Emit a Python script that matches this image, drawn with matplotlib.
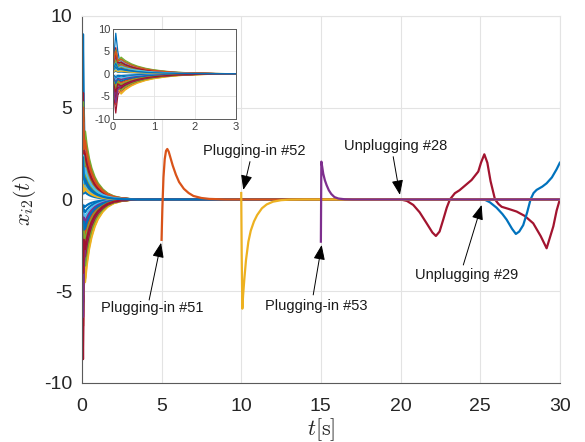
import matplotlib
matplotlib.use("Agg")
import matplotlib.pyplot as plt

plt.rcParams['font.family'] = ['Liberation Sans', 'DejaVu Sans']
plt.rcParams['mathtext.fontset'] = 'cm'
plt.rcParams['axes.unicode_minus'] = False

# MATLAB default colour order
colors = ['#0072BD', '#D95319', '#EDB120', '#7E2F8E', '#77AC30', '#4DBEEE', '#A2142F']

# ---- initial 50 agents: start value, transient peak, slow-mode amplitude, shared decay shape
agent_start = [1.0, -0.5, -1.2, 1.0, 2.0, -0.8, 2.5, 0.6, -2.5, 0.4,
               -1.0, -1.5, 1.4, -3.0, -0.3, 1.2, -2.0, 0.6, 2.2, -1.2,
               -0.9, 0.2, -1.4, 1.0, -1.7, -2.3, 1.6, 1.1, -0.2, 0.9,
               -1.0, 1.3, 0.7, -0.5, -2.1, 0.5, -0.9, -1.3, -0.6, 1.2,
               0.4, 1.8, -0.8, 1.9, 0.3, -2.4, -1.1, 0.8, -1.5, 0.9]
agent_peak = [9.0, -1.5, -4.5, 2.5, 4.8, -2.0, 5.8, 2.2, -6.9, 1.2,
              -3.0, -4.2, 3.3, -8.7, -1.0, 3.8, -5.2, 1.8, 5.3, -3.5,
              -2.4, 0.6, -3.8, 2.9, -4.8, -6.0, 4.2, 3.0, -0.6, 2.6,
              -2.8, 3.6, 2.0, -1.4, -5.6, 1.5, -2.6, -3.4, -1.8, 3.1,
              1.0, 4.5, -2.2, 5.0, 0.8, -6.4, -3.2, 2.4, -4.0, 2.3]
agent_slow = [1.2, -1.1, -4.3, 1.6, 3.7, -1.4, 2.6, 1.4, -3.9, 0.9,
              -2.2, -3.4, 2.4, -3.2, -0.7, 2.8, -4.5, 1.3, 3.4, -2.6,
              -1.8, 0.4, -3.0, 2.1, -2.9, -3.6, 3.0, 2.2, -0.4, 1.9,
              -2.1, 2.6, 1.5, -1.0, -3.1, 1.1, -2.0, -2.5, -1.3, 2.3,
              0.7, 2.5, -1.6, 3.2, 0.6, -2.8, -2.4, 1.7, -2.7, 1.0]
fast_t = [0.07, 0.12]
fast_shape = [1.0, 0.55]
decay_t = [0.2, 0.3, 0.45, 0.6, 0.8, 1.0, 1.3, 1.6, 2.0, 2.5, 3.0, 3.5]
decay_shape = [1.0, 0.8, 0.6, 0.46, 0.33, 0.24, 0.15, 0.09, 0.045, 0.018, 0.006, 0.0]

# ---- plugging-in agents
plug51_t = [5.0, 5.05, 5.12, 5.2, 5.28, 5.36, 5.45, 5.55, 5.7, 5.9, 6.1, 6.4, 6.7, 7.0, 7.5, 8.0, 9.0, 30.0]
plug51_y = [-2.2, -0.5, 1.2, 2.2, 2.65, 2.75, 2.6, 2.3, 1.85, 1.35, 0.95, 0.58, 0.35, 0.19, 0.08, 0.03, 0.0, 0.0]
plug52_t = [10.0, 10.03, 10.07, 10.12, 10.2, 10.3, 10.45, 10.6, 10.8, 11.0, 11.3, 11.6, 12.0, 12.5, 13.0, 14.0, 30.0]
plug52_y = [0.35, -3.0, -5.95, -5.2, -4.3, -3.3, -2.3, -1.7, -1.2, -0.85, -0.48, -0.27, -0.12, -0.04, -0.01, 0.0, 0.0]
plug53_t = [15.0, 15.03, 15.08, 15.15, 15.25, 15.36, 15.5, 15.65, 15.85, 16.1, 16.5, 17.0, 30.0]
plug53_y = [-2.3, 2.06, 1.8, 1.4, 1.05, 0.78, 0.5, 0.3, 0.13, 0.05, 0.01, 0.0, 0.0]

# ---- unplugging events (agents 28 and 29)
unplug28_t = [20.0, 20.4, 20.8, 21.2, 21.64, 22.0, 22.22, 22.45, 22.68, 22.9, 23.1, 23.41, 23.7,
              24.0, 24.46, 24.88, 25.05, 25.26, 25.45, 25.65, 25.93, 26.15, 26.35, 26.8, 27.29,
              27.8, 28.33, 28.8, 29.17, 29.59, 29.8, 30.0]
unplug28_y = [0.0, -0.08, -0.3, -0.7, -1.3, -1.8, -1.99, -1.75, -1.1, -0.45, 0.0, 0.34, 0.5,
              0.72, 1.06, 1.52, 2.0, 2.46, 2.0, 1.0, 0.0, -0.25, -0.4, -0.52, -0.66,
              -0.9, -1.3, -2.0, -2.66, -1.47, -0.6, 0.0]
unplug29_t = [25.0, 25.3, 25.6, 26.03, 26.4, 26.66, 27.0, 27.24, 27.45, 27.7, 27.95, 28.16,
              28.35, 28.54, 28.9, 29.17, 29.5, 29.8, 30.0]
unplug29_y = [0.0, -0.02, -0.15, -0.45, -0.8, -1.1, -1.6, -1.88, -1.75, -1.4, -0.7, 0.0,
              0.35, 0.52, 0.7, 0.88, 1.2, 1.65, 2.0]

annotations = [
    ("Plugging-in #51", (4.97, -2.36), (4.22, -5.48), (4.39, -5.91)),
    ("Plugging-in #52", (10.13, 0.52), (10.55, 2.06), (10.8, 2.62)),
    ("Plugging-in #53", (15.05, -2.48), (14.52, -5.2), (14.69, -5.78)),
    ("Unplugging #28", (19.96, 0.25), (19.54, 2.33), (19.7, 2.92)),
    ("Unplugging #29", (25.09, -0.3), (23.94, -3.57), (24.15, -4.11)),
]

fig = plt.figure(figsize=(5.85, 4.42), dpi=100)
ax = fig.add_axes([0.140, 0.1335, 0.817, 0.8305])
axi = fig.add_axes([0.193, 0.731, 0.210, 0.204])


def agent_series(i):
    t = [0.0] + fast_t + decay_t
    y = ([agent_start[i]] + [agent_peak[i] * s for s in fast_shape]
         + [agent_slow[i] * s for s in decay_shape])
    if i == 27:
        t = t + unplug28_t
        y = y + unplug28_y
    elif i == 28:
        t = t + unplug29_t
        y = y + unplug29_y
    else:
        t = t + [30.0]
        y = y + [0.0]
    return t, y


for i in range(len(agent_peak)):
    t, y = agent_series(i)
    c = colors[i % 7]
    ax.plot(t, y, color=c, lw=1.6, solid_joinstyle='round')
    axi.plot(t, y, color=c, lw=0.9)

ax.plot(plug51_t, plug51_y, color=colors[50 % 7], lw=1.6)
ax.plot(plug52_t, plug52_y, color=colors[51 % 7], lw=1.6)
ax.plot(plug53_t, plug53_y, color=colors[52 % 7], lw=1.6)

for label, head, tail, txt in annotations:
    ax.annotate('', xy=head, xytext=tail,
                arrowprops=dict(arrowstyle='-|>,head_length=0.9,head_width=0.35',
                                color='black', lw=0.7, shrinkA=0, shrinkB=0))
    ax.text(txt[0], txt[1], label, fontsize=10.5, ha='center', va='center', color='#1a1a1a')

# main axes styling
ax.set_xlim(0, 30)
ax.set_ylim(-10, 10)
ax.set_xticks([0, 5, 10, 15, 20, 25, 30])
ax.set_yticks([-10, -5, 0, 5, 10])
ax.grid(True, color='#e3e3e3', lw=0.8)
ax.set_axisbelow(True)
ax.tick_params(labelsize=14, colors='#262626', direction='in', length=0)
ax.tick_params(axis='x', pad=11)
ax.tick_params(axis='y', pad=7)
for s in ['left', 'bottom']:
    ax.spines[s].set_color('#5a5a5a')
    ax.spines[s].set_linewidth(0.8)
for s in ['top', 'right']:
    ax.spines[s].set_color('#e3e3e3')
    ax.spines[s].set_linewidth(0.8)
ax.set_xlabel(r'$t[\mathrm{s}]$', fontsize=16, labelpad=1, color='#262626')
ax.set_ylabel(r'$x_{i2}(t)$', fontsize=16, labelpad=4, color='#262626')

# inset styling
axi.set_xlim(0, 3)
axi.set_ylim(-10, 10)
axi.set_xticks([0, 1, 2, 3])
axi.set_yticks([-10, -5, 0, 5, 10])
axi.grid(True, color='#e3e3e3', lw=0.6)
axi.set_axisbelow(True)
axi.tick_params(labelsize=8, colors='#404040', direction='in', length=0, pad=2)
for s in axi.spines.values():
    s.set_color('#5a5a5a')
    s.set_linewidth(0.7)

fig.savefig('out.png', dpi=100)
